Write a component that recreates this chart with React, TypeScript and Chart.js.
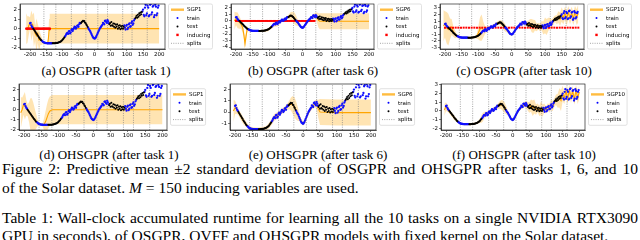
import React, { useEffect, useRef } from 'react';
import { Chart, registerables } from 'chart.js';

Chart.register(...registerables);

// ---------- shared data ----------
const X_TICKS = [-200, -150, -100, -50, 0, 50, 100, 150, 200];
const SPLITS = [-157, -120, -72, -27, 10, 40, 87, 116, 163];

const TRAIN_X = [
  -200, -198, -196, -194, -192,
  -164, -162, -160, -158, -156, -154, -152, -150, -148, -146, -144, -142, -140, -138, -136, -134, -132,
  -92, -90, -88, -86, -84, -82, -80, -78, -76, -74, -72, -70, -68, -66, -64, -62, -60, -58, -56, -54, -52, -50, -48, -46, -44,
  -20, -18, -16, -14, -12, -10, -8, -6, -4, -2, 0, 2, 4, 6, 8, 10, 12, 14, 16, 18, 20, 22, 24, 26, 28, 30, 32, 34, 36, 38, 40, 42, 44,
  92, 94, 96, 98, 100, 102, 104, 106, 108, 110, 112, 114, 116, 118, 120, 122, 124,
  148, 150, 152, 154, 156, 158, 160, 162, 164, 166, 168, 170, 172, 174, 176, 178, 180, 182, 184, 186, 188, 190, 192, 194, 196, 198,
];
const TRAIN_Y = [
  0.55, 0.6, 0.35, 0.2, 0.1,
  -1.25, -1.3, -1.38, -1.42, -1.46, -1.48, -1.5, -1.51, -1.52, -1.53, -1.53, -1.53, -1.53, -1.53, -1.53, -1.53, -1.53,
  -0.85, -0.75, -0.6, -0.5, -0.45, -0.55, -0.3, -0.25, -0.5, -0.4, -0.15, -0.05, -0.25, -0.1, 0.05, 0.2, 0.15, 0.0, 0.1, 0.3, 0.35, 0.2, 0.45, 0.6, 0.55,
  0.1, -0.05, -0.15, -0.25, -0.4, -0.55, -0.7, -0.85, -0.95, -1.0, -1.05, -1.0, -0.9, -0.75, -0.6, -0.45, -0.3, -0.15, 0.0, 0.1, 0.2, 0.3, 0.4, 0.6, 0.55, 0.45, 0.8, 0.85, 0.7, 0.6, 0.9, 0.75, 0.55,
  0.35, 0.1, -0.1, 0.3, 0.4, -0.05, 0.1, 0.45, 0.55, 0.2, 0.25, 0.6, 0.75, 0.4, 0.55, 0.85, 1.0,
  1.8, 2.0, 1.45, 1.3, 2.2, 2.5, 1.4, 1.6, 2.4, 2.2, 1.3, 1.4, 2.5, 2.6, 1.5, 1.7, 2.3, 2.4, 1.2, 1.4, 2.5, 2.3, 1.4, 1.6, 2.2, 2.4,
];

const TEST_X = [
  -190, -188, -186, -184, -182, -180, -178, -176, -174, -172, -170, -168, -166,
  -130, -128, -126, -124, -122, -120, -118, -116, -114, -112, -110, -108, -106, -104, -102, -100, -98, -96, -94,
  -42, -40, -38, -36, -34, -32, -30, -28, -26, -24, -22,
  46, 48, 50, 52, 54, 56, 58, 60, 62, 64, 66, 68, 70, 72, 74, 76, 78, 80, 82, 84, 86, 88, 90,
  126, 128, 130, 132, 134, 136, 138, 140, 142, 144, 146,
];
const TEST_Y = [
  0.0, -0.1, -0.2, -0.3, -0.4, -0.5, -0.6, -0.72, -0.82, -0.92, -1.0, -1.1, -1.18,
  -1.53, -1.53, -1.53, -1.52, -1.52, -1.51, -1.5, -1.49, -1.47, -1.45, -1.43, -1.4, -1.36, -1.32, -1.27, -1.2, -1.12, -1.03, -0.93,
  0.6, 0.7, 0.75, 0.82, 0.78, 0.8, 0.65, 0.6, 0.45, 0.35, 0.2,
  0.45, 0.6, 0.3, 0.7, 0.35, 0.3, 0.55, 0.2, 0.5, 0.1, 0.4, 0.2, 0.45, 0.0, 0.3, 0.1, 0.35, -0.05, 0.25, 0.05, 0.3, 0.0, 0.2,
  1.1, 1.2, 1.35, 1.15, 1.45, 1.25, 1.6, 1.4, 1.7, 1.5, 1.75,
];

const GRID5 = [
  -205, -200, -195, -190, -185, -180, -175, -170, -165, -160,
  -155, -150, -145, -140, -135, -130, -125, -120, -115, -110,
  -105, -100, -95, -90, -85, -80, -75, -70, -65, -60,
  -55, -50, -45, -40, -35, -30, -25, -20, -15, -10,
  -5, 0, 5, 10, 15, 20, 25, 30, 35, 40,
  45, 50, 55, 60, 65, 70, 75, 80, 85, 90,
  95, 100, 105, 110, 115, 120, 125, 130, 135, 140,
  145, 150, 155, 160, 165, 170, 175, 180, 185, 190,
  195, 200,
];

// ---------- (a) OSGPR after task 1 ----------
const A_X = [-212, -208, -204, -200, -196, -192, -188, -184, -180, -176, -172, -168, -164, -160, -156, -152, -148, -145, -143, -141, -139, -100, -50, 0, 50, 100, 150, 200];
const A_MEAN = [0.0, -0.1, 0.3, 0.6, 0.3, 0.45, -0.1, -0.5, -0.75, -0.5, -1.2, -1.1, -1.3, -1.45, -1.5, -1.52, -1.52, -1.5, -1.0, -0.2, 0, 0, 0, 0, 0, 0, 0, 0];
const A_STD = [0.8, 0.7, 0.5, 0.3, 0.8, 0.5, 0.9, 0.4, 0.9, 0.5, 0.6, 0.3, 0.2, 0.08, 0.05, 0.05, 0.06, 0.1, 0.3, 0.6, 0.78, 0.78, 0.78, 0.78, 0.78, 0.78, 0.78, 0.78];
const A_IND = [-212, -210, -208, -206, -204, -202, -200, -198, -196, -194, -192, -190, -188, -186, -184, -182, -180, -178, -176, -174, -172, -170, -168, -166, -164, -162, -160, -158, -156, -154, -152, -150, -148, -146, -144, -142, -140, -138];

// ---------- (b) OSGPR after task 6 ----------
const B_X = [-205, -200, -195, -190, -185, -180, -176, -173, -170, -166, -162, -158, -154, -150, -140, -130, -120, -110, -104, -100, -96, -92, -88, -84, -80, -76, -72, -68, -64, -60, -56, -52, -48, -44, -40, -36, -32, -28, -24, -20, -16, -12, -8, -4, 0, 4, 8, 12, 16, 20, 24, 28, 32, 36, 40, 44, 48, 52, 100, 150, 200];
const B_MEAN = [0.0, 0.35, 0.1, -0.2, -0.5, -1.0, -2.2, -3.5, -2.4, -1.2, -1.35, -1.45, -1.5, -1.52, -1.53, -1.53, -1.5, -1.45, -1.35, -1.2, -1.05, -0.85, -0.62, -0.45, -0.35, -0.38, -0.2, -0.15, 0.02, 0.12, 0.15, 0.32, 0.45, 0.55, 0.68, 0.76, 0.72, 0.58, 0.38, 0.12, -0.15, -0.42, -0.7, -0.92, -1.02, -0.9, -0.6, -0.3, -0.02, 0.2, 0.4, 0.55, 0.72, 0.75, 0.8, 0.5, 0.1, -0.05, -0.05, -0.05, -0.05];
const B_STD = [0.7, 0.5, 0.6, 0.5, 0.35, 0.4, 0.35, 0.3, 0.4, 0.2, 0.12, 0.1, 0.08, 0.08, 0.08, 0.08, 0.08, 0.1, 0.12, 0.12, 0.12, 0.15, 0.2, 0.22, 0.25, 0.25, 0.2, 0.15, 0.12, 0.1, 0.1, 0.1, 0.12, 0.15, 0.2, 0.28, 0.35, 0.4, 0.45, 0.4, 0.3, 0.2, 0.12, 0.1, 0.1, 0.1, 0.1, 0.12, 0.12, 0.12, 0.14, 0.16, 0.18, 0.2, 0.25, 0.4, 0.55, 0.62, 0.62, 0.62, 0.62];
const B_IND = [-200, -196, -192, -188, -184, -180, -176, -172, -168, -164, -160, -156, -152, -148, -144, -140, -136, -132, -128, -124, -120, -116, -112, -108, -104, -100, -96, -92, -88, -84, -80, -76, -72, -68, -64, -60, -56, -52, -48, -44, -40, -36, -32, -28, -24, -20, -16, -12, -8, -4, 0, 4, 8, 12, 16, 20, 24, 28, 32, 36];

// ---------- (c) OSGPR after task 10 ----------
const C_MEAN = [
  0.3, 0.5, 0.0, -0.3, -0.2, 0.1, -0.6, -1.0, -1.25, -1.4,
  -1.48, -1.52, -1.53, -1.53, -1.53, -1.53, -1.52, -1.5, -1.47, -1.43,
  -1.35, -0.8, -0.2, 0.0, -0.3, -0.35, -0.3, -0.1, 0.05, 0.15,
  0.25, 0.45, 0.55, 0.7, 0.75, 0.6, 0.35, 0.0, -0.3, -0.6,
  -0.9, -1.05, -0.85, -0.45, -0.1, 0.2, 0.4, 0.6, 0.8, 0.7,
  0.6, 0.45, 0.6, 0.3, 0.2, 0.35, 0.05, 0.2, 0.05, 0.3,
  -0.05, 0.35, 0.1, 0.5, 0.7, 0.55, 1.0, 1.35, 1.2, 1.6,
  1.3, 2.0, 1.5, 2.2, 1.4, 2.3, 1.5, 2.2, 1.4, 2.3,
  1.6, 2.2,
];
const C_STD = [
  1.2, 1.0, 1.2, 1.2, 0.8, 0.6, 0.4, 0.3, 0.15, 0.1,
  0.08, 0.08, 0.08, 0.08, 0.08, 0.08, 0.08, 0.08, 0.1, 0.1,
  0.15, 0.5, 0.9, 1.0, 0.6, 0.3, 0.2, 0.15, 0.12, 0.12,
  0.12, 0.12, 0.15, 0.15, 0.2, 0.25, 0.3, 0.3, 0.2, 0.15,
  0.12, 0.1, 0.1, 0.1, 0.1, 0.1, 0.12, 0.12, 0.15, 0.15,
  0.2, 0.3, 0.35, 0.5, 0.5, 0.4, 0.3, 0.25, 0.3, 0.35,
  0.5, 0.6, 0.6, 0.5, 0.4, 0.35, 0.3, 0.25, 0.35, 0.45,
  0.5, 0.55, 0.5, 0.5, 0.55, 0.5, 0.5, 0.5, 0.5, 0.5,
  0.6, 0.7,
];
const C_IND = [-200, -192, -184, -176, -168, -160, -152, -144, -136, -128, -120, -112, -104, -96, -88, -80, -72, -64, -56, -48, -40, -32, -24, -16, -8, 0, 8, 16, 24, 32, 40, 48, 56, 64, 72, 80, 88, 96, 104, 112, 120, 128, 136, 144, 152, 160, 168, 176, 184, 192, 200];

// ---------- (d) OHSGPR after task 1 ----------
const D_X = [-210, -206, -202, -198, -194, -190, -186, -182, -178, -174, -170, -166, -162, -158, -154, -150, -146, -142, -138, -134, -130, -126, -122, -118, -100, -50, 0, 50, 100, 150, 200];
const D_MEAN = [-0.3, 0.0, 0.5, 0.4, 0.2, -0.05, -0.25, -0.45, -0.65, -0.85, -1.0, -1.15, -1.3, -1.42, -1.48, -1.52, -1.52, -1.45, -1.2, -0.8, -0.4, -0.15, -0.05, 0, 0, 0, 0, 0, 0, 0, 0];
const D_STD = [0.8, 0.6, 0.5, 0.7, 0.4, 0.3, 0.5, 0.8, 0.9, 0.8, 0.6, 0.4, 0.2, 0.1, 0.06, 0.05, 0.1, 0.35, 0.55, 0.68, 0.73, 0.74, 0.74, 0.74, 0.74, 0.74, 0.74, 0.74, 0.74, 0.74, 0.74];

// ---------- (e) OHSGPR after task 6 ----------
const E_X = [
  -205, -200, -195, -190, -185, -180, -175, -170, -165, -160,
  -155, -150, -145, -140, -135, -130, -125, -120, -115, -110,
  -105, -100, -95, -90, -85, -80, -75, -70, -65, -60,
  -55, -50, -45, -40, -35, -30, -25, -20, -15, -10,
  -5, 0, 5, 10, 15, 20, 25, 30, 35, 40,
  45, 50, 100, 150, 200,
];
const E_MEAN = [
  0.1, 0.4, 0.25, 0.0, -0.3, -0.55, -0.8, -1.0, -1.2, -1.35,
  -1.45, -1.5, -1.52, -1.53, -1.53, -1.53, -1.52, -1.5, -1.47, -1.43,
  -1.35, -1.2, -1.0, -0.75, -0.5, -0.38, -0.3, -0.15, 0.0, 0.12,
  0.2, 0.38, 0.5, 0.65, 0.72, 0.62, 0.42, 0.12, -0.2, -0.5,
  -0.82, -1.02, -0.88, -0.5, -0.12, 0.15, 0.38, 0.58, 0.75, 0.7,
  0.3, 0.0, -0.05, -0.05, -0.05,
];
const E_STD = [
  0.5, 0.3, 0.2, 0.15, 0.15, 0.15, 0.15, 0.12, 0.1, 0.08,
  0.08, 0.08, 0.08, 0.08, 0.08, 0.08, 0.08, 0.08, 0.08, 0.08,
  0.1, 0.12, 0.12, 0.15, 0.15, 0.15, 0.15, 0.12, 0.12, 0.12,
  0.12, 0.12, 0.15, 0.2, 0.3, 0.4, 0.45, 0.4, 0.3, 0.15,
  0.1, 0.1, 0.1, 0.1, 0.1, 0.1, 0.1, 0.12, 0.15, 0.2,
  0.4, 0.58, 0.58, 0.58, 0.58,
];

// ---------- (f) OHSGPR after task 10 ----------
const F_MEAN = [
  0.1, 0.5, 0.3, 0.0, -0.3, -0.55, -0.8, -1.0, -1.2, -1.35,
  -1.45, -1.5, -1.52, -1.53, -1.53, -1.53, -1.52, -1.5, -1.47, -1.43,
  -1.35, -1.2, -1.0, -0.75, -0.5, -0.38, -0.3, -0.15, 0.0, 0.12,
  0.2, 0.38, 0.5, 0.65, 0.72, 0.62, 0.42, 0.12, -0.2, -0.5,
  -0.82, -1.02, -0.88, -0.5, -0.12, 0.15, 0.38, 0.58, 0.75, 0.7,
  0.55, 0.4, 0.6, 0.3, 0.5, 0.15, 0.35, 0.0, 0.3, 0.05,
  0.35, 0.1, 0.45, 0.3, 0.7, 0.55, 0.95, 1.3, 1.15, 1.5,
  1.2, 2.0, 1.5, 2.3, 1.4, 2.4, 1.5, 2.3, 1.3, 2.4,
  1.5, 2.2,
];
const F_STD = [
  0.35, 0.25, 0.2, 0.15, 0.12, 0.12, 0.12, 0.1, 0.08, 0.08,
  0.06, 0.06, 0.06, 0.06, 0.06, 0.06, 0.06, 0.06, 0.06, 0.06,
  0.08, 0.1, 0.2, 0.25, 0.2, 0.15, 0.12, 0.12, 0.12, 0.12,
  0.12, 0.12, 0.15, 0.2, 0.25, 0.3, 0.3, 0.25, 0.15, 0.1,
  0.08, 0.08, 0.08, 0.08, 0.08, 0.1, 0.1, 0.12, 0.15, 0.2,
  0.25, 0.3, 0.35, 0.45, 0.4, 0.3, 0.25, 0.3, 0.4, 0.35,
  0.25, 0.2, 0.2, 0.25, 0.3, 0.3, 0.25, 0.3, 0.4, 0.55,
  0.6, 0.45, 0.35, 0.3, 0.3, 0.3, 0.3, 0.3, 0.3, 0.3,
  0.35, 0.4,
];

// ---------- text ----------
const SUBCAPTIONS = [
  '(a) OSGPR (after task 1)',
  '(b) OSGPR (after task 6)',
  '(c) OSGPR (after task 10)',
  '(d) OHSGPR (after task 1)',
  '(e) OHSGPR (after task 6)',
  '(f) OHSGPR (after task 10)',
];
const FIG_LINE_1 = 'Figure 2: Predictive mean ±2 standard deviation of OSGPR and OHSGPR after tasks 1, 6, and 10';
const TABLE_LINE_1 = 'Table 1: Wall-clock accumulated runtime for learning all the 10 tasks on a single NVIDIA RTX3090';
const TABLE_LINE_2 = 'GPU in seconds), of OSGPR, OVFF and OHSGPR models with fixed kernel on the Solar dataset.';

type PanelCfg = {
  id: string; left: number; top: number; w: number; h: number;
  pl: number; pr: number; pt: number; pb: number;
  xMin: number; xMax: number; yMin: number; yMax: number; yTicks: number[];
  label: string; meanX: number[]; mean: number[]; std: number[]; ind: number[] | null;
  capX: number; capY: number; caption: string;
};

const PANELS: PanelCfg[] = [
  { id: 'a', left: 0, top: 0, w: 213, h: 58, pl: 20, pr: 165, pt: 1, pb: 49, xMin: -231, xMax: 218, yMin: -2.13, yMax: 2.58, yTicks: [-2, -1, 0, 1, 2], label: 'SGP1', meanX: A_X, mean: A_MEAN, std: A_STD, ind: A_IND, capX: 106, capY: 64, caption: SUBCAPTIONS[0] },
  { id: 'b', left: 210, top: 0, w: 213, h: 58, pl: 21, pr: 164, pt: 1, pb: 49, xMin: -215, xMax: 215, yMin: -4.3, yMax: 2.6, yTicks: [-4, -3, -2, -1, 0, 1, 2], label: 'SGP6', meanX: B_X, mean: B_MEAN, std: B_STD, ind: B_IND, capX: 313, capY: 64, caption: SUBCAPTIONS[1] },
  { id: 'c', left: 420, top: 0, w: 220, h: 58, pl: 20, pr: 164, pt: 1, pb: 49, xMin: -215, xMax: 217, yMin: -3.25, yMax: 3.6, yTicks: [-3, -2, -1, 0, 1, 2, 3], label: 'SGP10', meanX: GRID5, mean: C_MEAN, std: C_STD, ind: C_IND, capX: 524, capY: 64, caption: SUBCAPTIONS[2] },
  { id: 'd', left: 0, top: 80, w: 213, h: 58, pl: 19, pr: 167, pt: 3, pb: 50, xMin: -215, xMax: 213, yMin: -2.05, yMax: 2.6, yTicks: [-2, -1, 0, 1, 2], label: 'SGP1', meanX: D_X, mean: D_MEAN, std: D_STD, ind: null, capX: 109, capY: 148, caption: SUBCAPTIONS[3] },
  { id: 'e', left: 210, top: 80, w: 213, h: 58, pl: 20, pr: 166, pt: 3, pb: 50, xMin: -215, xMax: 215, yMin: -1.6, yMax: 2.5, yTicks: [-1, 0, 1, 2], label: 'SGP6', meanX: E_X, mean: E_MEAN, std: E_STD, ind: null, capX: 318, capY: 148, caption: SUBCAPTIONS[4] },
  { id: 'f', left: 420, top: 80, w: 220, h: 58, pl: 21, pr: 165, pt: 3, pb: 50, xMin: -215, xMax: 217, yMin: -2.2, yMax: 3.1, yTicks: [-2, -1, 0, 1, 2, 3], label: 'SGP10', meanX: GRID5, mean: F_MEAN, std: F_STD, ind: null, capX: 524, capY: 148, caption: SUBCAPTIONS[5] },
];

const TICK_FONT = { family: '"DejaVu Sans", sans-serif', size: 5.5 };

const framePlugin = {
  id: 'frame',
  afterDatasetsDraw(chart: any) {
    const { ctx, chartArea: a } = chart;
    ctx.save();
    ctx.strokeStyle = '#000';
    ctx.lineWidth = 0.6;
    ctx.strokeRect(a.left, a.top, a.right - a.left, a.bottom - a.top);
    ctx.restore();
  },
};

const legendPlugin = {
  id: 'sgpLegend',
  afterDraw(chart: any, _args: any, opts: any) {
    const items: { label: string; kind: string }[] = opts.items || [];
    if (!items.length) return;
    const { ctx, chartArea: a } = chart;
    ctx.save();
    ctx.font = '5.5px "DejaVu Sans", sans-serif';
    let maxW = 0;
    items.forEach((it) => { maxW = Math.max(maxW, ctx.measureText(it.label).width); });
    const rowH = 8.4;
    const x0 = a.right + 3.5;
    const bw = 18.5 + maxW + 2;
    const bh = items.length * rowH + 3;
    const cy = (a.top + a.bottom) / 2;
    const y0 = cy - bh / 2;
    const r = 1.5;
    ctx.beginPath();
    ctx.moveTo(x0 + r, y0);
    ctx.lineTo(x0 + bw - r, y0);
    ctx.quadraticCurveTo(x0 + bw, y0, x0 + bw, y0 + r);
    ctx.lineTo(x0 + bw, y0 + bh - r);
    ctx.quadraticCurveTo(x0 + bw, y0 + bh, x0 + bw - r, y0 + bh);
    ctx.lineTo(x0 + r, y0 + bh);
    ctx.quadraticCurveTo(x0, y0 + bh, x0, y0 + bh - r);
    ctx.lineTo(x0, y0 + r);
    ctx.quadraticCurveTo(x0, y0, x0 + r, y0);
    ctx.closePath();
    ctx.fillStyle = 'rgba(255,255,255,0.85)';
    ctx.fill();
    ctx.strokeStyle = '#cccccc';
    ctx.lineWidth = 0.6;
    ctx.stroke();
    items.forEach((it, i) => {
      const yc = y0 + 1.5 + rowH * (i + 0.5);
      const mx0 = x0 + 2.5;
      const mx1 = x0 + 15.5;
      const mc = (mx0 + mx1) / 2;
      if (it.kind === 'mean') {
        ctx.strokeStyle = 'rgba(255,165,0,0.75)';
        ctx.lineWidth = 2.4;
        ctx.setLineDash([]);
        ctx.beginPath(); ctx.moveTo(mx0, yc); ctx.lineTo(mx1, yc); ctx.stroke();
      } else if (it.kind === 'train' || it.kind === 'test') {
        ctx.fillStyle = it.kind === 'train' ? '#0000ff' : '#000000';
        ctx.beginPath(); ctx.arc(mc, yc, 1.0, 0, Math.PI * 2); ctx.fill();
      } else if (it.kind === 'inducing') {
        ctx.fillStyle = '#ff0000';
        ctx.fillRect(mc - 1.2, yc - 1.2, 2.4, 2.4);
      } else if (it.kind === 'splits') {
        ctx.strokeStyle = '#7f7f7f';
        ctx.lineWidth = 0.7;
        ctx.setLineDash([1, 1.3]);
        ctx.beginPath(); ctx.moveTo(mx0, yc); ctx.lineTo(mx1, yc); ctx.stroke();
        ctx.setLineDash([]);
      }
      ctx.fillStyle = '#000';
      ctx.textBaseline = 'middle';
      ctx.textAlign = 'left';
      ctx.fillText(it.label, x0 + 18.5, yc + 0.3);
    });
    ctx.restore();
  },
};

function Panel({ cfg }: { cfg: PanelCfg }) {
  const ref = useRef<HTMLCanvasElement>(null);
  useEffect(() => {
    const canvas = ref.current;
    if (!canvas) return;
    const xy = (xs: number[], ys: number[]) => xs.map((x, i) => ({ x, y: ys[i] }));
    const upper = cfg.mean.map((m, i) => m + 2 * cfg.std[i]);
    const lower = cfg.mean.map((m, i) => m - 2 * cfg.std[i]);
    const splitData: any[] = [];
    SPLITS.forEach((s) => {
      splitData.push({ x: s, y: cfg.yMin }, { x: s, y: cfg.yMax }, { x: s, y: null });
    });
    const datasets: any[] = [
      { label: 'test', data: xy(TEST_X, TEST_Y), showLine: false, pointRadius: 1.0, pointBackgroundColor: '#000000', pointBorderWidth: 0, order: 1 },
      { label: 'train', data: xy(TRAIN_X, TRAIN_Y), showLine: false, pointRadius: 1.15, pointBackgroundColor: '#1010ff', pointBorderWidth: 0, order: 2 },
    ];
    if (cfg.ind) {
      datasets.push({ label: 'inducing', data: cfg.ind.map((x) => ({ x, y: 0 })), showLine: false, pointStyle: 'rect', pointRadius: 1.4, pointBackgroundColor: '#ff0000', pointBorderWidth: 0, order: 3 });
    }
    datasets.push(
      { label: cfg.label, data: xy(cfg.meanX, cfg.mean), borderColor: '#ffa500', borderWidth: 1.1, pointRadius: 0, fill: false, order: 4 },
      { label: 'splits', data: splitData, borderColor: '#7f7f7f', borderWidth: 0.7, borderDash: [1, 1.3], pointRadius: 0, spanGaps: false, fill: false, order: 5 },
      { label: 'upper', data: xy(cfg.meanX, upper), borderColor: 'transparent', borderWidth: 0, pointRadius: 0, fill: '+1', backgroundColor: 'rgba(255,165,0,0.3)', order: 6 },
      { label: 'lower', data: xy(cfg.meanX, lower), borderColor: 'transparent', borderWidth: 0, pointRadius: 0, fill: false, order: 7 },
    );
    const legendItems = [
      { label: cfg.label, kind: 'mean' },
      { label: 'train', kind: 'train' },
      { label: 'test', kind: 'test' },
      ...(cfg.ind ? [{ label: 'inducing', kind: 'inducing' }] : []),
      { label: 'splits', kind: 'splits' },
    ];
    const chart = new Chart(canvas, {
      type: 'line',
      data: { datasets },
      options: {
        animation: false,
        responsive: false,
        devicePixelRatio: 1,
        events: [],
        layout: { padding: { left: 0, top: cfg.pt, right: cfg.w - cfg.pr, bottom: 0 } },
        plugins: {
          legend: { display: false },
          tooltip: { enabled: false },
          sgpLegend: { items: legendItems },
        } as any,
        scales: {
          x: {
            type: 'linear',
            min: cfg.xMin,
            max: cfg.xMax,
            afterBuildTicks: (ax: any) => { ax.ticks = X_TICKS.map((v) => ({ value: v })); },
            afterFit: (ax: any) => { ax.height = cfg.h - cfg.pb; ax.paddingLeft = 0; ax.paddingRight = 0; },
            ticks: { font: TICK_FONT, color: '#000', padding: 0.5, autoSkip: false, maxRotation: 0, minRotation: 0 },
            grid: { drawOnChartArea: false, drawTicks: true, tickLength: 2, color: '#000', lineWidth: 0.5 },
            border: { display: true, color: '#000', width: 0.6 },
          },
          y: {
            type: 'linear',
            min: cfg.yMin,
            max: cfg.yMax,
            afterBuildTicks: (ax: any) => { ax.ticks = cfg.yTicks.map((v) => ({ value: v })); },
            afterFit: (ax: any) => { ax.width = cfg.pl; ax.paddingTop = 0; ax.paddingBottom = 0; },
            ticks: { font: TICK_FONT, color: '#000', padding: 1, autoSkip: false },
            grid: { drawOnChartArea: false, drawTicks: true, tickLength: 2, color: '#000', lineWidth: 0.5 },
            border: { display: true, color: '#000', width: 0.6 },
          },
        } as any,
      },
      plugins: [framePlugin, legendPlugin],
    } as any);
    return () => chart.destroy();
  }, [cfg]);
  return (
    <canvas
      ref={ref}
      width={cfg.w}
      height={cfg.h}
      style={{ position: 'absolute', left: cfg.left, top: cfg.top, width: cfg.w, height: cfg.h }}
    />
  );
}

function JustifiedLine({ text, top }: { text: string; top: number }) {
  const words = text.split(' ');
  return (
    <div style={{ position: 'absolute', left: 2, top, width: 636, display: 'flex', justifyContent: 'space-between', whiteSpace: 'nowrap', fontSize: 15.5, lineHeight: '15.5px' }}>
      {words.map((w, i) => <span key={i}>{w}</span>)}
    </div>
  );
}

export default function App() {
  return (
    <div style={{ position: 'absolute', left: 0, top: 0, width: 640, height: 240, overflow: 'hidden', background: '#fff', fontFamily: '"Liberation Serif", "Times New Roman", serif', color: '#000' }}>
      {PANELS.map((p) => <Panel key={p.id} cfg={p} />)}
      {PANELS.map((p) => (
        <div key={'cap' + p.id} style={{ position: 'absolute', left: p.capX - 110, top: p.capY, width: 220, textAlign: 'center', whiteSpace: 'nowrap', fontSize: 13, lineHeight: '13px' }}>
          {p.caption}
        </div>
      ))}
      <JustifiedLine text={FIG_LINE_1} top={161} />
      <div style={{ position: 'absolute', left: 2, top: 179.5, whiteSpace: 'nowrap', fontSize: 15.5, lineHeight: '15.5px' }}>
        of the Solar dataset. <i>M</i> = 150 inducing variables are used.
      </div>
      <JustifiedLine text={TABLE_LINE_1} top={210} />
      <div style={{ position: 'absolute', left: 2, top: 228, whiteSpace: 'nowrap', fontSize: 15.5, lineHeight: '15.5px' }}>
        {TABLE_LINE_2}
      </div>
    </div>
  );
}
